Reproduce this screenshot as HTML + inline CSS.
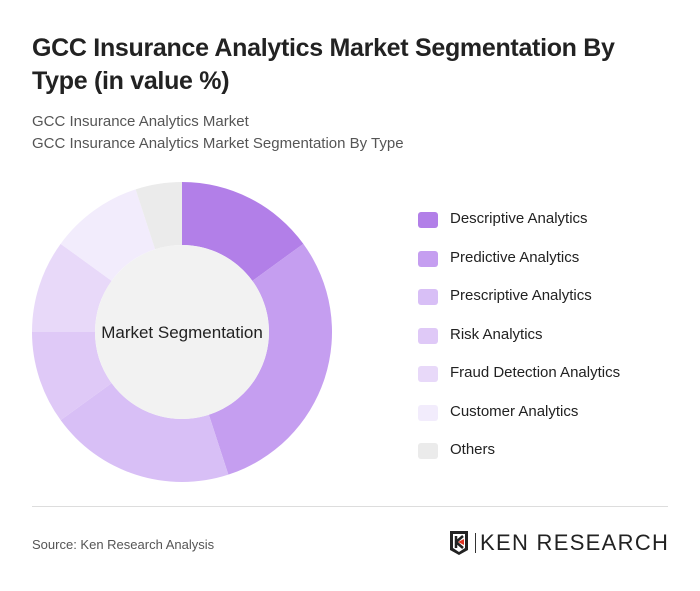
<!DOCTYPE html>
<html><head><meta charset="utf-8"><style>
body{margin:0;background:#fff;font-family:"Liberation Sans",sans-serif;}
#wrap{position:relative;width:700px;height:591px;overflow:hidden;background:#fff;}
.title{position:absolute;left:32px;top:32px;width:640px;font-size:25px;font-weight:bold;color:#222;line-height:33px;letter-spacing:-0.3px}
.sub{position:absolute;left:32px;font-size:15px;color:#555}
.leg{position:absolute;left:418px;font-size:15px;color:#222}
.leg span.sw{position:absolute;left:0;top:2px;width:20px;height:16px;border-radius:3px}
.leg span.tx{position:absolute;left:32px;top:0;white-space:nowrap}
</style></head><body>
<div id="wrap">
<div class="title">GCC Insurance Analytics Market Segmentation By Type (in value %)</div>
<div class="sub" style="top:113px">GCC Insurance Analytics Market</div>
<div class="sub" style="top:135px">GCC Insurance Analytics Market Segmentation By Type</div>
<svg id="donut" width="700" height="591" style="position:absolute;left:0;top:0"></svg>
<div id="legend"></div>
<div style="position:absolute;left:32px;top:506px;width:636px;height:1px;background:#ddd"></div>
<div class="sub" style="top:537px;font-size:13px;color:#555">Source: Ken Research Analysis</div>
<div style="position:absolute;left:448px;top:530px;width:222px;height:26px">
<svg width="24" height="26" style="position:absolute;left:0;top:0"><path d="M2 1H20V20L11 25L2 20Z" fill="#222"/><path d="M5 4H17V18L11 22L5 18Z" fill="#fff"/><path d="M8 6V18M8 12L15 6M8 12L15 18" stroke="#222" stroke-width="2.5" fill="none"/><path d="M10 12L16 9V15Z" fill="#d32"/></svg>
<div style="position:absolute;left:27px;top:3px;width:1px;height:20px;background:#333"></div>
<div style="position:absolute;left:32px;top:0px;font-size:22px;color:#222;letter-spacing:1.3px;white-space:nowrap">KEN RESEARCH</div>
</div>
</div>
<script>
const categories=["Descriptive Analytics","Predictive Analytics","Prescriptive Analytics","Risk Analytics","Fraud Detection Analytics","Customer Analytics","Others"];
const values=[15,30,20,10,10,10,5];
const colors=["#b27fe8","#c59ef0","#d8bff6","#dfc9f7","#e8d9f9","#f2ecfc","#ebebeb"];
const svg=document.getElementById('donut');
const ns="http://www.w3.org/2000/svg";
const cx=182,cy=332,R=150,r=87;
const total=values.reduce((a,b)=>a+b,0);
function pt(a,rad){return [cx+rad*Math.sin(a),cy-rad*Math.cos(a)];}
let acc=0;
values.forEach((v,i)=>{
 const a0=acc/total*2*Math.PI;acc+=v;const a1=acc/total*2*Math.PI;
 const lg=(a1-a0)>Math.PI?1:0;
 const p0=pt(a0,R),p1=pt(a1,R),q1=pt(a1,r),q0=pt(a0,r);
 const p=document.createElementNS(ns,'path');
 p.setAttribute('d',`M${p0}A${R},${R} 0 ${lg} 1 ${p1}L${q1}A${r},${r} 0 ${lg} 0 ${q0}Z`);
 p.setAttribute('fill',colors[i]);
 
 
 svg.appendChild(p);
});
const c=document.createElementNS(ns,'circle');
c.setAttribute('cx',cx);c.setAttribute('cy',cy);c.setAttribute('r',r);c.setAttribute('fill','#f2f2f2');


svg.appendChild(c);
const t=document.createElementNS(ns,'text');
t.setAttribute('x',cx);t.setAttribute('y',cy+6);t.setAttribute('text-anchor','middle');
t.setAttribute('font-size','17');t.setAttribute('fill','#222');t.setAttribute('font-family','Liberation Sans, sans-serif');
t.textContent='Market Segmentation';


svg.appendChild(t);
const lg=document.getElementById('legend');
categories.forEach((n,i)=>{
 const d=document.createElement('div');d.className='leg';d.style.top=(210+i*38.5)+'px';
 
 
 d.innerHTML='<span class="sw" style="background:'+colors[i]+'"></span><span class="tx">'+n+'</span>';
 lg.appendChild(d);
});
</script>
</body></html>
